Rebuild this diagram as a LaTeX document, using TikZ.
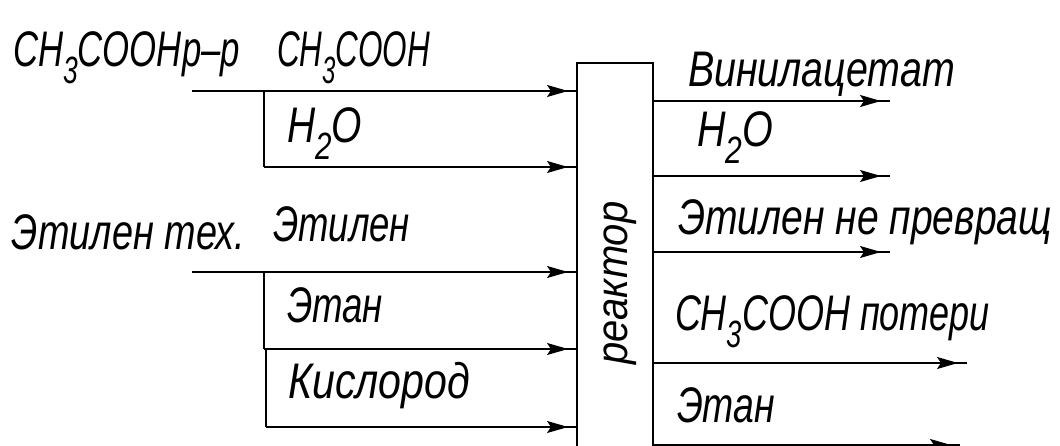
\documentclass[tikz,border=0pt]{standalone}
\usepackage{fontspec}
\usepackage{graphicx}
\newfontfamily\gost{Liberation Sans}
\usetikzlibrary{arrows.meta,decorations.markings}
\newcommand\lsub[1]{\raisebox{-0.34em}{\fontsize{38pt}{38pt}\selectfont #1}}
\newcommand\fitw[2]{\resizebox{#1}{\height}{#2}}
\tikzset{
  lab/.style={anchor=base west, inner sep=0pt, outer sep=0pt,
    font=\gost\itshape\fontsize{50pt}{50pt}\selectfont},
  flow/.style={line width=1.6pt, postaction={decorate},
    decoration={markings, mark=at position -9pt with
      {\arrow{Stealth[length=21pt,width=12pt,inset=4pt]}}}},
  branch/.style={line width=1.6pt},
  reactorbox/.style={draw, line width=2.4pt, minimum width=76pt,
    minimum height=420pt, inner sep=0pt, outer sep=0pt, anchor=north west}
}
\begin{document}
\begin{tikzpicture}[x=1pt,y=-1pt]
\fill[white] (0,0) rectangle (1060,446);
\useasboundingbox (0,0) rectangle (1060,446);
\clip (0,0) rectangle (1060,446);

% reactor
\node[reactorbox] (reactor) at (577,63) {};
\node[rotate=90, anchor=base, inner sep=0pt,
  font=\gost\itshape\fontsize{44pt}{44pt}\selectfont] (rlab) at (627,283)
  {\fitw{163pt}{реактор}};

% input start points and junctions
\coordinate (a1) at (192,91);
\coordinate (j1) at (264,91);
\coordinate (j1b) at (264,167);
\coordinate (a2) at (192,272);
\coordinate (j2) at (264,272);
\coordinate (j2b) at (264,349);
\coordinate (j3) at (266,349);
\coordinate (j3b) at (266,427);

\draw[flow] (a1) -- (a1 -| reactor.west);
\draw[branch] (j1) -- (j1b);
\draw[flow] (j1b) -- (j1b -| reactor.west);
\draw[flow] (a2) -- (a2 -| reactor.west);
\draw[branch] (j2) -- (j2b);
\draw[flow] (j2b) -- (j2b -| reactor.west);
\draw[branch] (j3) -- (j3b);
\draw[flow] (j3b) -- (j3b -| reactor.west);

% outputs
\coordinate (o1) at (890,101);
\coordinate (o2) at (890,176);
\coordinate (o3) at (890,252);
\coordinate (o4) at (967,363);
\coordinate (o5) at (960,445);
\draw[flow] (o1 -| reactor.east) -- (o1);
\draw[flow] (o2 -| reactor.east) -- (o2);
\draw[flow] (o3 -| reactor.east) -- (o3);
\draw[flow] (o4 -| reactor.east) -- (o4);
\draw[flow] (o5 -| reactor.east) -- (o5);

% left labels
\node[lab] (l1) at (13,67) {\fitw{227pt}{CH\lsub{3}COOHр–р}};
\node[lab] (l2) at (277,67) {\fitw{153pt}{CH\lsub{3}COOH}};
\node[lab] (l3) at (287,143) {\fitw{75pt}{H\lsub{2}O}};
\node[lab] (l4) at (12,250) {\fitw{233pt}{Этилен тех.}};
\node[lab] (l5) at (273,242) {\fitw{137pt}{Этилен}};
\node[lab] (l6) at (287,322) {\fitw{96pt}{Этан}};
\node[lab] (l7) at (288,398) {\fitw{182pt}{Кислород}};

% right labels
\node[lab] (r1) at (688,87) {\fitw{267pt}{Винилацетат}};
\node[lab] (r2) at (697,147) {\fitw{76pt}{H\lsub{2}O}};
\node[lab] (r3) at (678,235) {\fitw{374pt}{Этилен не превращ}};
\node[lab] (r4) at (675,330) {\fitw{315pt}{CH\lsub{3}COOH потери}};
\node[lab] (r5) at (677,422) {\fitw{98pt}{Этан}};
\end{tikzpicture}
\end{document}
